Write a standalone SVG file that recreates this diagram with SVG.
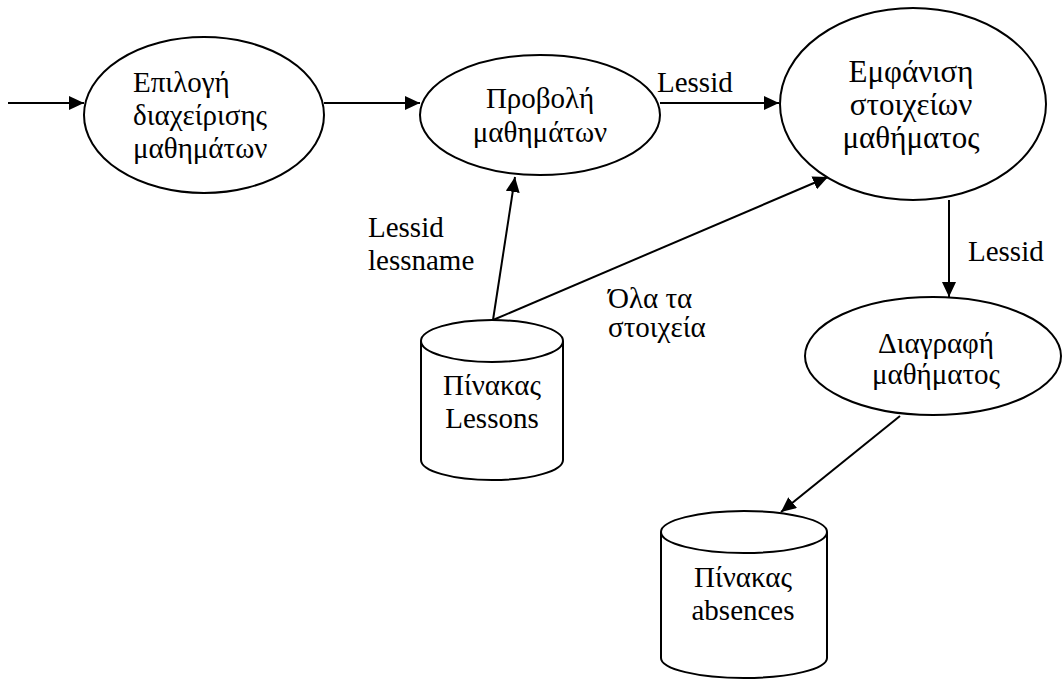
<svg xmlns="http://www.w3.org/2000/svg" width="1062" height="679" viewBox="0 0 1062 679">
  <style>
    .shape { fill: #fff; stroke: #000; stroke-width: 2; }
    .flow { stroke: #000; stroke-width: 2; fill: none; marker-end: url(#arrow); }
    text { font-family: 'Liberation Serif', 'DejaVu Serif', serif; font-size: 29px; fill: #000; }
    .c { text-anchor: middle; }
  </style>
  <defs>
    <!-- solid triangular arrowhead, tip on the line end -->
    <marker id="arrow" viewBox="0 0 15 14" refX="15" refY="7" markerWidth="15" markerHeight="14" markerUnits="userSpaceOnUse" orient="auto">
      <path d="M0,0 L15,7 L0,14 z" fill="#000"/>
    </marker>
  </defs>

  <g id="connectors">
    <line class="flow" x1="8" y1="103" x2="84" y2="103"/>
    <line class="flow" x1="324" y1="103" x2="420" y2="103"/>
    <line class="flow" x1="660" y1="103" x2="779" y2="103"/>
    <line class="flow" x1="493" y1="320" x2="515" y2="177"/>
    <line class="flow" x1="493" y1="320" x2="828" y2="177"/>
    <line class="flow" x1="949" y1="200" x2="949" y2="297"/>
    <line class="flow" x1="900" y1="416" x2="781" y2="512"/>
    <text x="657" y="92">Lessid</text>
    <text x="368" y="237">Lessid</text>
    <text x="368" y="270">lessname</text>
    <text x="608" y="308">Όλα τα</text>
    <text x="608" y="337">στοιχεία</text>
    <text x="968" y="261">Lessid</text>
  </g>

  <g id="select-management">
    <ellipse class="shape" cx="204" cy="115" rx="120" ry="78"/>
    <text x="133" y="92">Επιλογή</text>
    <text x="133" y="125">διαχείρισης</text>
    <text x="133" y="158">μαθημάτων</text>
  </g>

  <g id="view-lessons">
    <ellipse class="shape" cx="540" cy="115" rx="120" ry="60"/>
    <text class="c" x="540" y="108">Προβολή</text>
    <text class="c" x="540" y="142">μαθημάτων</text>
  </g>

  <g id="show-lesson-details">
    <ellipse class="shape" cx="913" cy="104" rx="133" ry="96"/>
    <text class="c" x="911" y="82" style="font-size:31px">Εμφάνιση</text>
    <text class="c" x="911" y="115" style="font-size:31px">στοιχείων</text>
    <text class="c" x="911" y="148" style="font-size:31px">μαθήματος</text>
  </g>

  <g id="delete-lesson">
    <ellipse class="shape" cx="933" cy="356" rx="128" ry="59"/>
    <text class="c" x="936" y="353">Διαγραφή</text>
    <text class="c" x="936" y="384">μαθήματος</text>
  </g>

  <g id="table-lessons">
    <path class="shape" d="M421,341 L421,460 A71,20 0 0 0 563,460 L563,341"/>
    <ellipse class="shape" cx="492" cy="341" rx="71" ry="21"/>
    <text class="c" x="492" y="395">Πίνακας</text>
    <text class="c" x="492" y="428">Lessons</text>
  </g>

  <g id="table-absences">
    <path class="shape" d="M661,532 L661,658 A83,20 0 0 0 827,658 L827,532"/>
    <ellipse class="shape" cx="744" cy="532" rx="83" ry="21"/>
    <text class="c" x="743" y="587">Πίνακας</text>
    <text class="c" x="743" y="620">absences</text>
  </g>
</svg>
